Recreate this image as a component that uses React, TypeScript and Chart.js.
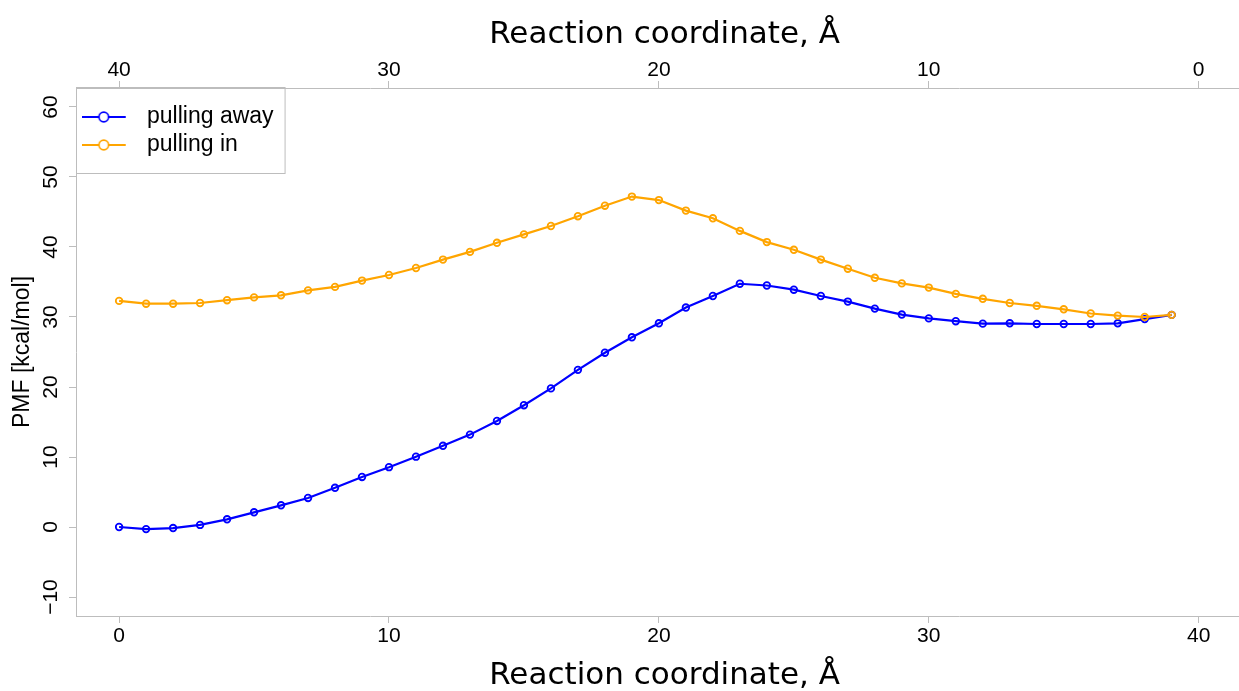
import React, { useEffect, useRef } from 'react';
import { Chart, registerables } from 'chart.js';

Chart.register(...registerables);

// ---- data ----
const reactionCoordinate = [
  0, 1, 2, 3, 4, 5, 6, 7, 8, 9, 10, 11, 12, 13, 14, 15, 16, 17, 18, 19,
  20, 21, 22, 23, 24, 25, 26, 27, 28, 29, 30, 31, 32, 33, 34, 35, 36, 37, 38, 39,
];
const pullingAway = [
  0, -0.3, -0.15, 0.3, 1.1, 2.1, 3.1, 4.15, 5.6, 7.15,
  8.55, 10.05, 11.6, 13.2, 15.15, 17.4, 19.8, 22.45, 24.9, 27.1,
  29.1, 31.35, 33.0, 34.75, 34.5, 33.9, 33.0, 32.2, 31.2, 30.35,
  29.8, 29.4, 29.05, 29.1, 29.0, 29.0, 29.0, 29.1, 29.7, 30.3,
];
const pullingIn = [
  32.3, 31.9, 31.9, 32.0, 32.4, 32.8, 33.1, 33.8, 34.3, 35.2,
  36.0, 37.0, 38.2, 39.3, 40.6, 41.8, 43.0, 44.4, 45.9, 47.2,
  46.7, 45.2, 44.1, 42.3, 40.7, 39.6, 38.2, 36.9, 35.6, 34.8,
  34.2, 33.3, 32.6, 32.0, 31.6, 31.1, 30.5, 30.2, 30.0, 30.3,
];
const seriesNames = ['pulling away', 'pulling in'];
const bottomTickValues = [0, 10, 20, 30, 40];
const topTickValues = [0, 10, 20, 30, 40];
const yTickValues = [-10, 0, 10, 20, 30, 40, 50, 60];
const axisTitle = 'Reaction coordinate, \u00C5';
const yAxisTitle = 'PMF [kcal/mol]';

const BLUE = '#0000ff';
const ORANGE = '#ffa500';
const AXIS_GRAY = '#bdbdbd';
const TICK_FONT = { family: 'Liberation Sans', size: 21, lineHeight: 1 };
const TITLE_FONT = { family: 'DejaVu Sans', size: 31, lineHeight: 1 };
const TOP_AXIS_HEIGHT = 88;

const fmt = (v: number) => (v < 0 ? '\u2212' + Math.abs(v) : String(v));

function legendIcon(color: string) {
  const c = document.createElement('canvas');
  c.width = 53;
  c.height = 16;
  const g = c.getContext('2d')!;
  g.strokeStyle = color;
  g.lineWidth = 2;
  g.beginPath();
  g.moveTo(0, 8);
  g.lineTo(44, 8);
  g.stroke();
  g.lineWidth = 1.7;
  g.beginPath();
  g.arc(22, 8, 4.8, 0, Math.PI * 2);
  g.fillStyle = '#ffffff';
  g.fill();
  g.stroke();
  return c;
}

const legendBorder = {
  id: 'legendBorder',
  afterDraw(chart: any) {
    const lg = chart.legend;
    if (!lg || !lg.legendHitBoxes || !lg.legendHitBoxes.length) return;
    const boxes = lg.legendHitBoxes;
    let right = 0;
    boxes.forEach((b: any) => {
      right = Math.max(right, b.left + b.width);
    });
    const last = boxes[boxes.length - 1];
    const left = chart.chartArea.left;
    const top = chart.chartArea.top - 1;
    const ctx = chart.ctx;
    ctx.save();
    ctx.strokeStyle = AXIS_GRAY;
    ctx.lineWidth = 1;
    ctx.strokeRect(left + 0.5, top + 0.5, right + 11 - left, last.top + last.height + 16.5 - top);
    ctx.restore();
  },
};

export default function App() {
  const ref = useRef<HTMLCanvasElement>(null);

  useEffect(() => {
    const canvas = ref.current!;
    const xMin = -1.597;
    const xMax = 42.02;
    const icons = [legendIcon(BLUE), legendIcon(ORANGE)];
    const colors = [BLUE, ORANGE];

    const tickGrid = {
      display: true,
      drawOnChartArea: false,
      drawTicks: true,
      tickLength: 7,
      color: AXIS_GRAY,
      lineWidth: 1,
    };
    const border = { display: true, color: AXIS_GRAY, width: 1 };

    const chart = new Chart(canvas, {
      type: 'line',
      data: {
        datasets: [
          {
            label: seriesNames[0],
            data: reactionCoordinate.map((x, i) => ({ x, y: pullingAway[i] })),
            borderColor: BLUE,
            backgroundColor: 'transparent',
            pointBackgroundColor: 'transparent',
            pointBorderColor: BLUE,
            pointRadius: 3.3,
            pointBorderWidth: 1.8,
            borderWidth: 2.2,
            tension: 0,
            order: 1,
          },
          {
            label: seriesNames[1],
            data: reactionCoordinate.map((x, i) => ({ x, y: pullingIn[i] })),
            borderColor: ORANGE,
            backgroundColor: 'transparent',
            pointBackgroundColor: 'transparent',
            pointBorderColor: ORANGE,
            pointRadius: 3.3,
            pointBorderWidth: 1.8,
            borderWidth: 2.2,
            tension: 0,
            order: 0,
          },
        ],
      },
      options: {
        responsive: false,
        animation: false,
        devicePixelRatio: 1,
        layout: { padding: 0 },
        plugins: {
          tooltip: { enabled: false },
          legend: {
            position: 'chartArea',
            align: 'start',
            title: {
              display: true,
              text: ' ',
              font: { size: 10, lineHeight: 1 },
              padding: { top: TOP_AXIS_HEIGHT + 2.5, bottom: 0 },
            },
            labels: {
              usePointStyle: true,
              pointStyleWidth: 54.5,
              padding: 5,
              color: '#000',
              font: { family: 'Liberation Sans', size: 23 },
              generateLabels: () =>
                seriesNames.map((name, i) => ({
                  text: name,
                  fillStyle: colors[i],
                  strokeStyle: colors[i],
                  fontColor: '#000',
                  lineWidth: 0,
                  pointStyle: icons[i],
                  hidden: false,
                  datasetIndex: i,
                })),
            },
          },
        },
        scales: {
          x: {
            type: 'linear',
            position: 'bottom',
            min: xMin,
            max: xMax,
            afterBuildTicks: (s: any) => {
              s.ticks = bottomTickValues.map((v) => ({ value: v }));
            },
            afterFit: (s: any) => {
              s.height = 75;
            },
            ticks: {
              font: TICK_FONT,
              color: '#000',
              padding: 2.5,
              autoSkip: false,
              maxRotation: 0,
              callback: (v: any) => fmt(Number(v)),
            },
            grid: tickGrid,
            border,
            title: {
              display: true,
              text: axisTitle,
              color: '#000',
              font: TITLE_FONT,
              padding: { top: 0, bottom: 0 },
            },
          },
          x2: {
            type: 'linear',
            position: 'top',
            reverse: true,
            min: 40 - xMax,
            max: 40 - xMin,
            afterBuildTicks: (s: any) => {
              s.ticks = topTickValues.map((v) => ({ value: v }));
            },
            afterFit: (s: any) => {
              s.height = TOP_AXIS_HEIGHT;
            },
            ticks: {
              font: TICK_FONT,
              color: '#000',
              padding: 0,
              autoSkip: false,
              maxRotation: 0,
              callback: (v: any) => fmt(Number(v)),
            },
            grid: tickGrid,
            border,
            title: {
              display: true,
              text: axisTitle,
              color: '#000',
              font: TITLE_FONT,
              padding: { top: 19.3, bottom: 0 },
            },
          },
          y: {
            type: 'linear',
            position: 'left',
            min: -12.71,
            max: 62.71,
            afterBuildTicks: (s: any) => {
              s.ticks = yTickValues.map((v) => ({ value: v }));
            },
            afterFit: (s: any) => {
              s.width = 76;
            },
            ticks: {
              font: TICK_FONT,
              color: '#000',
              padding: 0,
              autoSkip: false,
              minRotation: 90,
              maxRotation: 90,
              crossAlign: 'center',
              callback: (v: any) => fmt(Number(v)),
            },
            grid: tickGrid,
            border,
            title: {
              display: true,
              text: yAxisTitle,
              color: '#000',
              font: { family: 'Liberation Sans', size: 23, lineHeight: 1 },
              padding: { top: 11, bottom: 0 },
            },
          },
        },
      } as any,
      plugins: [legendBorder],
    });
    return () => chart.destroy();
  }, []);

  return (
    <div
      style={{
        position: 'fixed',
        left: 0,
        top: 0,
        width: 1239,
        height: 691,
        overflow: 'hidden',
        background: '#ffffff',
      }}
    >
      <div style={{ width: 1259, height: 691 }}>
        <canvas ref={ref} width={1259} height={691} style={{ display: 'block' }} />
      </div>
    </div>
  );
}
